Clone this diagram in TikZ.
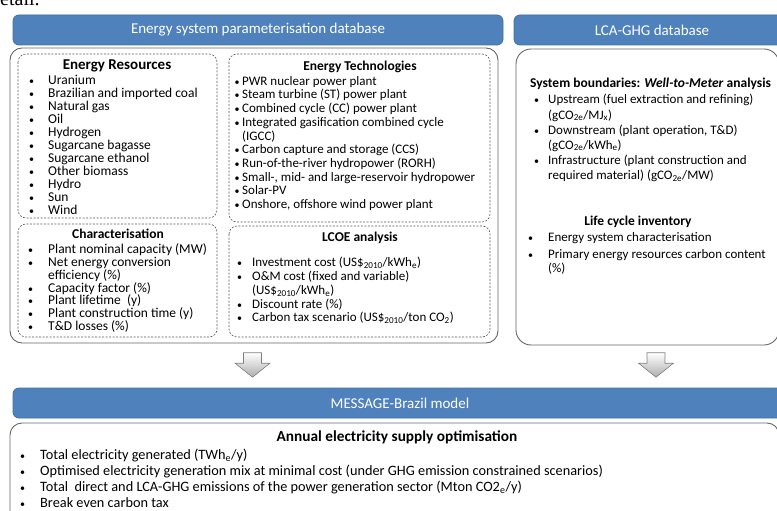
\documentclass[tikz,border=0pt]{standalone}
\usepackage{fontspec}
\setmainfont{Carlito}
\newfontfamily\cutfont{Liberation Serif}
\definecolor{hdrblue}{HTML}{4F81BD}
\definecolor{hdrline}{HTML}{41719C}
\tikzset{
  hnode/.style={fill=hdrblue,draw=hdrline,rounded corners=6pt,line width=0.8pt,text=white,font=\fontsize{15}{15}\selectfont},
  bnode/.style={draw=black!60,rounded corners=12pt,line width=0.9pt},
  dnode/.style={draw=black!65,dash pattern=on 2pt off 1.5pt,rounded corners=8pt,line width=0.6pt},
  tnode/.style={inner sep=0pt,text height=9pt,text depth=3pt,font=\bfseries\fontsize{13.5}{13.5}\selectfont},
  inode/.style={anchor=west,inner sep=0pt,text height=9pt,text depth=3pt,font=\fontsize{13}{13}\selectfont},
  bignode/.style={inode,font=\fontsize{13.5}{13.5}\selectfont},
  botnode/.style={inode,font=\fontsize{14.3}{14.3}\selectfont},
  bulnode/.style={anchor=west,inner sep=0pt,text height=9pt,text depth=3pt,font=\fontsize{10}{10}\selectfont},
  arrnode/.style={top color=white,bottom color=black!32,draw=black!50,line width=0.6pt}
}
\newcommand*{\itm}[6][inode]{\node[bulnode] (#2-b) at (#3,#5) {\textbullet}; \node[#1] (#2) at (#4,#5) {#6};}
\newcommand*{\sbs}[1]{\textsubscript{#1}}
\newcommand*{\downarr}[2]{\shade[arrnode] ({#1-9},#2) -- ({#1+9},#2) -- ({#1+9},{#2+10.5}) -- ({#1+17.5},{#2+10.5})
  -- (#1,{#2+24.5}) -- ({#1-17.5},{#2+10.5}) -- ({#1-9},{#2+10.5}) -- cycle;}

\begin{document}
\begin{tikzpicture}[x=1pt,y=-1pt]
  \useasboundingbox (0,0) rectangle (777,511);
  \node[anchor=base west,inner sep=0pt,font=\cutfont\fontsize{20}{20}\selectfont] (cut) at (0,6) {etail.};
  %
  \node[hnode,minimum width=490pt,minimum height=30pt] (esys) at (258,30) {Energy system parameterisation database};
  \node[hnode,minimum width=276pt,minimum height=30pt] (lca) at (652,30) {LCA-GHG database};
  \node[hnode,minimum width=774pt,minimum height=30pt] (msg) at (400,403) {MESSAGE-Brazil model};
  %
  \draw[bnode] (10,48) rectangle (498,343);
  \draw[bnode,rounded corners=15pt] (516,49) rectangle (779,345);
  \draw[bnode] (10,423) rectangle (779,530);
  \draw[dnode] (18,54) rectangle (217,218);
  \draw[dnode] (18,224) rectangle (217,337);
  \draw[dnode] (229,54) rectangle (490,222);
  \draw[dnode] (229,226) rectangle (490,337);
  %
  \downarr{252.5}{352.7}
  \downarr{656}{352.7}
  %
  \node[tnode,font=\bfseries\fontsize{15}{15}\selectfont] (er) at (117,67) {Energy Resources};
  \itm[bignode]{er1}{29}{48}{81.7}{Uranium}
  \itm[bignode]{er2}{29}{48}{94.7}{Brazilian and imported coal}
  \itm[bignode]{er3}{29}{48}{107.7}{Natural gas}
  \itm[bignode]{er4}{29}{48}{120.7}{Oil}
  \itm[bignode]{er5}{29}{48}{133.7}{Hydrogen}
  \itm[bignode]{er6}{29}{48}{146.7}{Sugarcane bagasse}
  \itm[bignode]{er7}{29}{48}{159.7}{Sugarcane ethanol}
  \itm[bignode]{er8}{29}{48}{172.7}{Other biomass}
  \itm[bignode]{er9}{29}{48}{185.7}{Hydro}
  \itm[bignode]{er10}{29}{48}{198.7}{Sun}
  \itm[bignode]{er11}{29}{48}{211.7}{Wind}
  %
  \node[tnode] (et) at (360,68) {Energy Technologies};
  \itm{et1}{234.5}{242}{82.3}{PWR nuclear power plant}
  \itm{et2}{234.5}{242}{96}{Steam turbine (ST) power plant}
  \itm{et3}{234.5}{242}{109.7}{Combined cycle (CC) power plant}
  \itm{et4}{234.5}{242}{123.4}{Integrated gasification combined cycle}
  \node[inode] (et4b) at (242,137.1) {(IGCC)};
  \itm{et5}{234.5}{242}{150.8}{Carbon capture and storage (CCS)}
  \itm{et6}{234.5}{242}{164.5}{Run-of-the-river hydropower (RORH)}
  \itm{et7}{234.5}{242}{178.2}{Small-, mid- and large-reservoir hydropower}
  \itm{et8}{234.5}{242}{191.9}{Solar-PV}
  \itm{et9}{234.5}{242}{205.6}{Onshore, offshore wind power plant}
  %
  \node[tnode] (ch) at (118,235) {Characterisation};
  \itm[bignode]{ch1}{28}{48}{250}{Plant nominal capacity (MW)}
  \itm[bignode]{ch2}{28}{48}{263.5}{Net energy conversion}
  \node[bignode] (ch2b) at (48,276) {efficiency (\%)};
  \itm[bignode]{ch3}{28}{48}{289}{Capacity factor (\%)}
  \itm[bignode]{ch4}{28}{48}{301.7}{Plant lifetime\ \ (y)}
  \itm[bignode]{ch5}{28}{48}{314.3}{Plant construction time (y)}
  \itm[bignode]{ch6}{28}{48}{327.3}{T\&D losses (\%)}
  %
  \node[tnode] (lc) at (360,238) {LCOE analysis};
  \itm{lc1}{237}{252}{263.3}{Investment cost (US\$\sbs{2010}/kWh\sbs{e})}
  \itm{lc2}{237}{252}{277}{O\&M cost (fixed and variable)}
  \node[inode] (lc2b) at (252,291.5) {(US\$\sbs{2010}/kWh\sbs{e})};
  \itm{lc3}{237}{252}{305}{Discount rate (\%)}
  \itm{lc4}{237}{252}{318.3}{Carbon tax scenario (US\$\sbs{2010}/ton CO\sbs{2})}
  %
  \node[tnode,anchor=west] (sb) at (530,85) {System boundaries: \textit{Well-to-Meter} analysis};
  \itm{sb1}{534}{548}{100.5}{Upstream (fuel extraction and refining)}
  \node[inode] (sb1b) at (548,116) {(gCO\sbs{2e}/MJ\sbs{x})};
  \itm{sb2}{534}{548}{131}{Downstream (plant operation, T\&D)}
  \node[inode] (sb2b) at (548,146) {(gCO\sbs{2e}/kWh\sbs{e})};
  \itm{sb3}{534}{548}{161.5}{Infrastructure (plant construction and}
  \node[inode] (sb3b) at (548,176.5) {required material) (gCO\sbs{2e}/MW)};
  %
  \node[tnode] (li) at (638,222) {Life cycle inventory};
  \itm{li1}{528}{548}{238.3}{Energy system characterisation}
  \itm{li2}{528}{548}{255}{Primary energy resources carbon content}
  \node[inode] (li2b) at (548,269.3) {(\%)};
  %
  \node[tnode,font=\bfseries\fontsize{15.3}{15.3}\selectfont] (ae) at (397,438) {Annual electricity supply optimisation};
  \itm[botnode]{ae1}{20}{40}{456}{Total electricity generated (TWh\sbs{e}/y)}
  \itm[botnode]{ae2}{20}{40}{472.3}{Optimised electricity generation mix at minimal cost (under GHG emission constrained scenarios)}
  \itm[botnode]{ae3}{20}{40}{488.3}{Total\ \ direct and LCA-GHG emissions of the power generation sector (Mton CO2\sbs{e}/y)}
  \itm[botnode]{ae4}{20}{40}{504}{Break even carbon tax}
\end{tikzpicture}
\end{document}
